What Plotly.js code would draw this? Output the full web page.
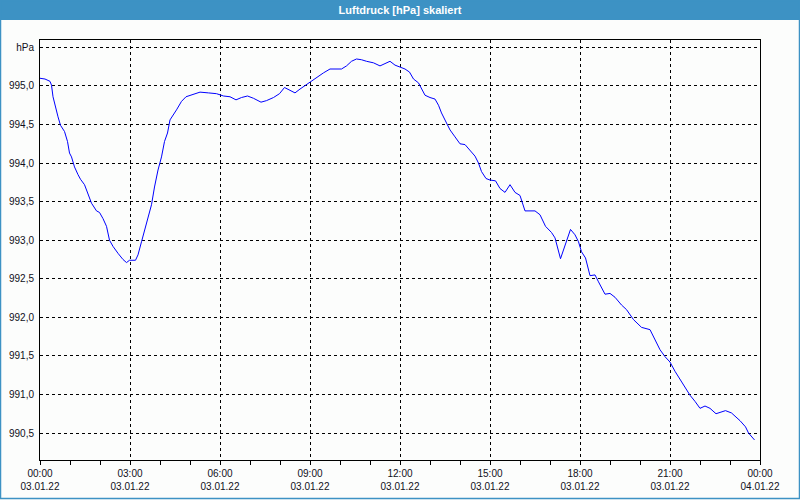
<!DOCTYPE html>
<html>
<head>
<meta charset="utf-8">
<script src="https://cdn.plot.ly/plotly-3.0.1.min.js"></script>
<style>
html,body{margin:0;padding:0;background:#fcfdfc;}
#chart{width:800px;height:500px;}
</style>
</head>
<body>
<div id="chart"></div>
<script>
// Chart data
const chartTitle = "Luftdruck [hPa] skaliert";
const dayStart = "2022-01-03";
const dayEnd = "2022-01-04";
const times = ["00:00","00:10","00:20","00:23","00:26","00:31","00:36","00:41","00:49","00:55","00:59",
  "01:03","01:09","01:16","01:21","01:29","01:36","01:43","01:53","01:59",
  "02:06","02:13","02:19","02:26","02:36","02:46","02:53","02:59",
  "03:11","03:16","03:23","03:29","03:36","03:43","03:49","03:56",
  "04:03","04:09","04:15","04:20","04:33","04:43","04:52",
  "05:03","05:20","05:37","05:53",
  "06:07","06:20","06:32","06:43","06:55",
  "07:07","07:22","07:33","07:47","07:59",
  "08:09","08:20","08:30","08:40","08:53",
  "09:03","09:13","09:27","09:40","09:53",
  "10:03","10:13","10:23","10:33","10:43","10:53",
  "11:07","11:20","11:30","11:40","11:50",
  "12:00","12:10","12:19","12:27","12:37","12:43","12:50",
  "13:00","13:10","13:17","13:23","13:33","13:40","13:50",
  "14:00","14:10","14:20","14:30","14:37","14:43","14:52",
  "15:00","15:11","15:20","15:30","15:40","15:50",
  "16:00","16:10","16:30","16:40","16:51",
  "17:03","17:10","17:21","17:31","17:41","17:50","17:57",
  "18:03","18:11","18:20","18:30","18:37","18:50",
  "19:00","19:10","19:23","19:33","19:47",
  "20:03","20:20","20:30","20:40","20:50",
  "21:00","21:10","21:23","21:40","21:50",
  "22:00","22:10","22:20","22:32","22:40","22:51",
  "23:03","23:20","23:31","23:37","23:49"];
const pressure = [995.10,995.09,995.06,995.01,994.86,994.71,994.60,994.49,994.41,994.28,994.13,
  994.08,993.95,993.85,993.79,993.72,993.61,993.48,993.38,993.36,
  993.28,993.18,993.00,992.92,992.83,992.75,992.71,992.74,
  992.74,992.81,992.98,993.13,993.28,993.46,993.69,993.91,
  994.08,994.28,994.39,994.56,994.69,994.80,994.86,
  994.88,994.92,994.91,994.90,
  994.87,994.86,994.82,994.85,994.87,
  994.84,994.79,994.81,994.85,994.90,
  994.98,994.94,994.91,994.96,995.02,
  995.06,995.11,995.17,995.22,995.22,
  995.22,995.26,995.32,995.35,995.34,995.32,
  995.30,995.26,995.29,995.32,995.27,
  995.25,995.22,995.18,995.09,995.04,994.97,994.88,
  994.85,994.83,994.75,994.65,994.52,994.43,994.34,
  994.25,994.24,994.17,994.09,994.00,993.89,993.80,
  993.78,993.77,993.67,993.62,993.72,993.62,
  993.58,993.38,993.38,993.33,993.18,
  993.10,993.03,992.76,992.96,993.14,993.07,992.98,
  992.85,992.77,992.54,992.55,992.46,992.30,
  992.31,992.26,992.16,992.10,991.97,
  991.87,991.84,991.71,991.58,991.49,
  991.42,991.30,991.17,990.99,990.91,
  990.82,990.85,990.82,990.75,990.77,990.79,
  990.76,990.66,990.58,990.50,990.41];
const yTickVals = [990.5,991.0,991.5,992.0,992.5,993.0,993.5,994.0,994.5,995.0,995.5];
const yTickText = ["990,5","991,0","991,5","992,0","992,5","993,0","993,5","994,0","994,5","995,0","hPa"];
const xTickHours = ["00:00","03:00","06:00","09:00","12:00","15:00","18:00","21:00","00:00"];
const xTickDates = ["03.01.22","03.01.22","03.01.22","03.01.22","03.01.22","03.01.22","03.01.22","03.01.22","04.01.22"];

const xs = times.map(t => dayStart + " " + t);
const xTickVals = xTickHours.map((h, i) => (i === xTickHours.length - 1 ? dayEnd : dayStart) + " " + h);
const xTickText = xTickHours.map((h, i) => h + "<br>" + xTickDates[i]);

const W = 800, H = 500, L = 40, R = 40, T = 40, B = 40;
const pw = W - L - R, ph = H - T - B;
const px = v => (v - L) / pw;          // pixel x -> paper
const py = v => (H - B - v) / ph;      // pixel y -> paper

const trace = {
  x: xs, y: pressure, type: "scatter", mode: "lines",
  line: {color: "#0000ff", width: 1}, hoverinfo: "x+y"
};

const fontFam = "Liberation Sans, Arial, sans-serif";
const layout = {
  width: W, height: H,
  margin: {l: L, r: R, t: T, b: B, pad: 0},
  paper_bgcolor: "#fcfdfc", plot_bgcolor: "#fcfdfc",
  showlegend: false,
  font: {family: fontFam, size: 10, color: "#101020"},
  title: {text: "<b>" + chartTitle + "</b>", x: 0.5, xanchor: "center", xref: "paper",
          y: 1 - 10 / H, yanchor: "middle", yref: "container",
          font: {family: fontFam, size: 11, color: "#ffffff"}},
  xaxis: {
    type: "date",
    range: [dayStart + " 00:00", dayEnd + " 00:00"],
    tickvals: xTickVals, ticktext: xTickText,
    ticks: "outside", ticklen: 4, tickcolor: "#000", tickwidth: 1,
    minor: {dtick: 3600000, ticks: "outside", ticklen: 4, tickcolor: "#000", showgrid: false},
    showgrid: true, gridcolor: "#000", gridwidth: 1, griddash: "3px,3px",
    showline: true, linecolor: "#000", linewidth: 1, mirror: true,
    zeroline: false, tickfont: {size: 10, color: "#101020"}, tickangle: 0
  },
  yaxis: {
    range: [990.15, 995.596],
    tickvals: yTickVals, ticktext: yTickText,
    ticks: "", ticklabelstandoff: 3,
    showgrid: true, gridcolor: "#000", gridwidth: 1, griddash: "3px,3px",
    showline: true, linecolor: "#000", linewidth: 1, mirror: true,
    zeroline: false, tickfont: {size: 10, color: "#101020"}
  },
  shapes: [
    {type: "rect", xref: "paper", yref: "paper", layer: "below",
     x0: px(0), x1: px(W), y0: py(0), y1: py(20),
     fillcolor: "#3d92c4", line: {width: 0}},
    {type: "rect", xref: "paper", yref: "paper", layer: "above",
     x0: px(0.5), x1: px(W - 0.5), y0: py(0.5), y1: py(H - 1.5),
     fillcolor: "rgba(0,0,0,0)", line: {color: "#3d92c4", width: 1.5}}
  ]
};

Plotly.newPlot("chart", [trace], layout, {displayModeBar: false, staticPlot: true});
</script>
</body>
</html>
